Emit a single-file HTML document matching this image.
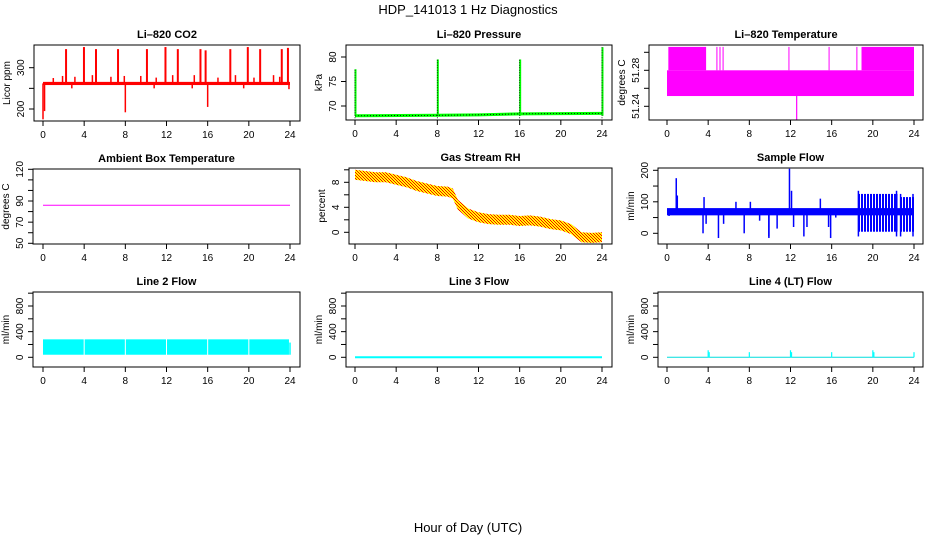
<!DOCTYPE html>
<html><head><meta charset="utf-8"><style>
body{margin:0;background:#fff;}
svg{display:block;font-family:"Liberation Sans",Arial,sans-serif;}
</style></head><body>
<svg id="c" width="936" height="540" viewBox="0 0 936 540">
<defs>
<pattern id="rhpat" width="3" height="3" patternUnits="userSpaceOnUse"><rect width="3" height="3" fill="#ffff00"/><rect width="1" height="1" fill="#ff0000"/><rect x="1" y="1" width="1" height="1" fill="#ff0000"/><rect x="2" y="2" width="1" height="1" fill="#ff0000"/></pattern>
<pattern id="flowpat" width="3" height="4" patternUnits="userSpaceOnUse"><rect width="3" height="4" fill="#ffffff"/><rect width="2" height="4" fill="#0000ff"/></pattern>
</defs>
<text x="468" y="14" text-anchor="middle" font-size="13">HDP_141013  1 Hz Diagnostics</text>
<text x="468" y="532" text-anchor="middle" font-size="13">Hour of Day (UTC)</text>
</svg>
<script>
// ---- data ----
const xTicks=[0,4,8,12,16,20,24];
const co2Base=[[0,262],[24,262]];
const co2Spikes=[[2.24,345],[3.98,350],[5.15,345],[7.29,345],[10.1,345],[11.9,350],[13.1,345],[15.3,345],[15.8,342],[18.2,345],[19.9,350],[21.1,345],[23.2,345],[23.8,348]];
const co2Small=[[1.0,275],[1.9,280],[3.1,278],[4.8,282],[6.6,278],[7.9,280],[9.5,280],[11.0,276],[12.6,282],[14.7,282],[17.0,276],[18.7,282],[20.5,276],[22.4,282],[23.0,278]];
const co2Dips=[[0,175],[0.15,195],[8,192],[16,205],[2.8,250],[10.8,250],[14.5,250],[19.5,250],[23.9,248]];
const presBase=[[0,68.0],[8,68.1],[12,68.2],[16,68.4],[24,68.5]];
const presSpikes=[[0,77.5],[8,79.5],[16,79.5],[24,82]];
const tempLowBand=[0,24,51.2514,51.28];
const tempHighSegs=[[0.13,3.8],[4.8,4.9],[5.1,5.2],[5.4,5.5],[11.8,11.85],[15.7,15.75],[18.4,18.5],[18.9,24]];
const tempDip=[12.6,51.225];
const ambient=[[0,86],[24,86]];
const rhHours=[0,1,2,3,4,5,6,7,8,9,9.5,10,11,12,13,14,15,16,17,18,19,20,21,22,23,24];
const rhMid=[9.2,9.0,8.8,8.8,8.4,8.0,7.4,7.0,6.6,6.5,6.2,4.4,3.0,2.4,2.1,2.0,2.0,1.8,1.9,1.7,1.3,1.1,0.5,-0.8,-0.9,-0.8];
const flowBand=[0,24,57,80];
const flowSpikes=[[0.9,175],[1.0,120],[3.6,115],[3.5,0],[3.8,30],[5.0,-15],[5.5,30],[7.5,0],[9.9,-15],[9.9,-10],[10.7,15],[11.9,205],[12.1,135],[12.3,20],[13.3,-10],[13.6,20],[14.9,110],[15.9,-15],[15.7,20],[16.4,50],[0.2,55],[6.7,100],[8.1,100],[9.0,40]];
const flowNoisy=[[18.5,22.4,-10,135],[22.6,24,-10,125]];
const l2Band=[0,23.9,40,280];
const l2Gaps=[4,8,12,16,20];
const l2End=[24,230];
const l3Line=[[0,0],[24,0]];
const l4Spikes=[[4,110],[4.1,80],[8,80],[12,110],[12.1,80],[16,80],[20,110],[20.1,80],[24,80]];

const svg=document.getElementById('c');
const NS='http://www.w3.org/2000/svg';
function el(tag,attrs,parent){const e=document.createElementNS(NS,tag);for(const k in attrs)e.setAttribute(k,attrs[k]);(parent||svg).appendChild(e);return e;}

function panel(o){
  const g=el('g',{});
  
  
  const [bl,bt,br,bb]=o.box;
  const sx=v=>o.x0+(v/24)*(o.x24-o.x0);
  const sy=v=>o.yp1+(v-o.yv1)*(o.yp2-o.yp1)/(o.yv2-o.yv1);
  const t=el('text',{x:(bl+br)/2,y:bt-7,'text-anchor':'middle','font-size':11,'font-weight':'bold'},g);
  t.textContent=o.title;
  
  
  const data=el('g',{},g);
  
  
  o.draw(data,sx,sy);
  const r=el('rect',{x:bl,y:bt,width:br-bl,height:bb-bt,fill:'none',stroke:'#000','stroke-width':1},g);
  
  
  xTicks.forEach(v=>{
    el('line',{x1:sx(v),x2:sx(v),y1:bb,y2:bb+5,stroke:'#000'},g);
    const tx=el('text',{x:sx(v),y:bb+17,'text-anchor':'middle','font-size':10},g);
    tx.textContent=v;
    
    
  });
  o.yticks.forEach(v=>el('line',{x1:bl-5,x2:bl,y1:sy(v),y2:sy(v),stroke:'#000'},g));
  o.ylabels.forEach(v=>{
    const tx=el('text',{x:0,y:0,'text-anchor':'middle','font-size':10,transform:`translate(${bl-10},${sy(v)}) rotate(-90)`},g);
    tx.textContent=o.fmt?o.fmt(v):v;
    
    
  });
  const yl=el('text',{x:0,y:0,'text-anchor':'middle','font-size':10,transform:`translate(${bl-24},${(bt+bb)/2}) rotate(-90)`},g);
  yl.textContent=o.ylab;
  
  
}
function vline(g,x,y1,y2,c,w,extra){const a={x1:x,x2:x,y1:y1,y2:y2,stroke:c,'stroke-width':w||1.5};Object.assign(a,extra||{});el('line',a,g);}
function pl(g,pts,sx,sy,c,w,extra){const a={points:pts.map(p=>sx(p[0])+','+sy(p[1])).join(' '),fill:'none',stroke:c,'stroke-width':w};Object.assign(a,extra||{});return el('polyline',a,g);}

panel({name:'co2',title:'Li\u2013820 CO2',ylab:'Licor ppm',box:[34,45,300,121],x0:43,x24:290,yv1:200,yp1:109,yv2:300,yp2:67.7,yticks:[200,250,300],ylabels:[200,300],
 draw(g,sx,sy){
  el('rect',{x:sx(0),y:sy(265),width:sx(24)-sx(0),height:sy(258)-sy(265),fill:'#ff0000'},g);
  pl(g,co2Base,sx,sy,'#ff0000',3);
  co2Spikes.forEach(p=>vline(g,sx(p[0]),sy(262),sy(p[1]),'#ff0000',2));
  co2Small.forEach(p=>vline(g,sx(p[0]),sy(262),sy(p[1]),'#ff0000',1.5));
  co2Dips.forEach(p=>vline(g,sx(p[0]),sy(262),sy(p[1]),'#ff0000',1.5));
 }});
panel({name:'pressure',title:'Li\u2013820 Pressure',ylab:'kPa',box:[346,45,612,120],x0:355,x24:602,yv1:70,yp1:106,yv2:80,yp2:57,yticks:[70,75,80],ylabels:[70,75,80],
 draw(g,sx,sy){
  pl(g,presBase,sx,sy,'#00ff00',3);
  pl(g,presBase,sx,sy,'#000',0.8,{'stroke-dasharray':'1,2'});
  presSpikes.forEach(p=>{vline(g,sx(p[0])+0.5,sy(68),sy(p[1]),'#00ff00',2);vline(g,sx(p[0]),sy(67.5),sy(p[1]),'#000',0.8,{'stroke-dasharray':'1,1.5'});});
 }});
panel({name:'li820-temperature',title:'Li\u2013820 Temperature',ylab:'degrees C',box:[649,45,923,120],x0:667,x24:914,yv1:51.24,yp1:106.3,yv2:51.28,yp2:70.3,yticks:[51.24,51.26,51.28,51.30],ylabels:[51.24,51.28],fmt:v=>v.toFixed(2),
 draw(g,sx,sy){
  el('rect',{x:sx(tempLowBand[0]),y:sy(tempLowBand[3]),width:sx(tempLowBand[1])-sx(tempLowBand[0]),height:sy(tempLowBand[2])-sy(tempLowBand[3]),fill:'#ff00ff'},g);
  tempHighSegs.forEach(s=>el('rect',{x:sx(s[0]),y:sy(51.306),width:Math.max(1,sx(s[1])-sx(s[0])),height:sy(51.28)-sy(51.306),fill:'#ff00ff'},g));
  vline(g,sx(tempDip[0]),sy(51.26),sy(tempDip[1]),'#ff00ff',1.2);
 }});
panel({name:'ambient-box-temperature',title:'Ambient Box Temperature',ylab:'degrees C',box:[33,169,300,244],x0:43,x24:290,yv1:50,yp1:243.3,yv2:120,yp2:169.3,yticks:[50,60,70,80,90,100,110,120],ylabels:[50,70,90,120],
 draw(g,sx,sy){pl(g,ambient,sx,sy,'#ff00ff',1);}});
panel({name:'gas-stream-rh',title:'Gas Stream RH',ylab:'percent',box:[349,168,612,244],x0:355,x24:602,yv1:0,yp1:232.3,yv2:8,yp2:182.3,yticks:[0,2,4,6,8,10],ylabels:[0,4,8],
 draw(g,sx,sy){
  const top=rhHours.map((h,i)=>sx(h)+','+sy(rhMid[i]+0.8));
  const bot=rhHours.map((h,i)=>sx(h)+','+sy(rhMid[i]-0.8)).reverse();
  el('polygon',{points:top.concat(bot).join(' '),fill:'url(#rhpat)'},g);
 }});
panel({name:'sample-flow',title:'Sample Flow',ylab:'ml/min',box:[658,168,923,244],x0:667,x24:914,yv1:0,yp1:233.3,yv2:200,yp2:170.3,yticks:[0,50,100,150,200],ylabels:[0,100,200],
 draw(g,sx,sy){
  flowNoisy.forEach(s=>{
   el('rect',{x:sx(s[0]),y:sy(s[3]-10),width:sx(s[1])-sx(s[0]),height:sy(s[2]+15)-sy(s[3]-10),fill:'url(#flowpat)'},g);
   vline(g,sx(s[0])+1,sy(s[2]),sy(s[3]),'#0000ff',1.5);vline(g,sx(s[1])-1,sy(s[2]),sy(s[3]),'#0000ff',1.5);
  });
  el('rect',{x:sx(flowBand[0]),y:sy(flowBand[3]),width:sx(flowBand[1])-sx(flowBand[0]),height:sy(flowBand[2])-sy(flowBand[3]),fill:'#0000ff'},g);
  flowSpikes.forEach(p=>vline(g,sx(p[0]),sy(68),sy(p[1]),'#0000ff',1.5));
 }});
const flowCommon={ylab:'ml/min',yv1:0,yp1:357.3,yv2:800,yp2:306,yticks:[0,200,400,600,800,1000],ylabels:[0,400,800]};
panel(Object.assign({name:'line2-flow',title:'Line 2 Flow',box:[33,292,300,367],x0:43,x24:290,
 draw(g,sx,sy){
  el('rect',{x:sx(l2Band[0]),y:sy(l2Band[3]),width:sx(l2Band[1])-sx(l2Band[0]),height:sy(l2Band[2])-sy(l2Band[3]),fill:'#00ffff'},g);
  l2Gaps.forEach(h=>vline(g,sx(h),sy(l2Band[3])-1,sy(l2Band[2])+1,'#ffffff',1));
  vline(g,sx(l2End[0]),sy(l2End[1]),sy(40),'#00ffff',1.5);
 }},flowCommon));
panel(Object.assign({name:'line3-flow',title:'Line 3 Flow',box:[346,292,612,367],x0:355,x24:602,
 draw(g,sx,sy){pl(g,l3Line,sx,sy,'#00ffff',2);}},flowCommon));
panel(Object.assign({name:'line4-flow',title:'Line 4 (LT) Flow',box:[658,292,923,367],x0:667,x24:914,
 draw(g,sx,sy){pl(g,l3Line,sx,sy,'#00dddd',1);l4Spikes.forEach(p=>vline(g,sx(p[0]),sy(0),sy(p[1]),'#00ffff',1.2));}},flowCommon));
</script>
</body></html>
